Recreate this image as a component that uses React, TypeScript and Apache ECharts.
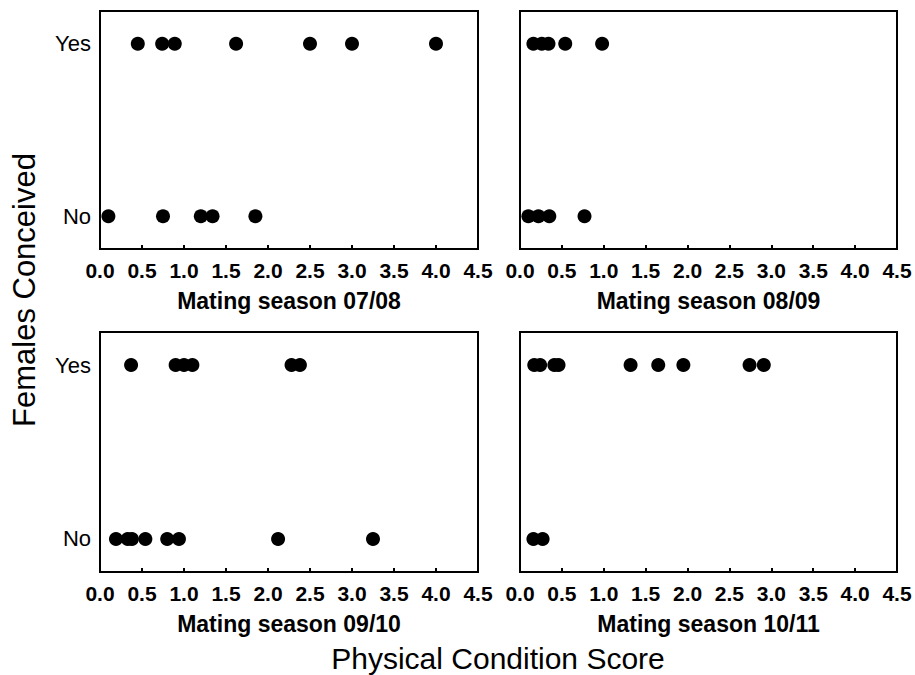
import React, { useEffect, useRef } from "react";
import * as echarts from "echarts";

const seasons = ["Mating season 07/08", "Mating season 08/09", "Mating season 09/10", "Mating season 10/11"];
const yLabels = ["No", "Yes"];
const xTicks = [0, 0.5, 1, 1.5, 2, 2.5, 3, 3.5, 4, 4.5];

const yes0708 = [0.45, 0.74, 0.89, 1.62, 2.5, 3.0, 4.0];
const no0708 = [0.1, 0.75, 1.2, 1.34, 1.85];
const yes0809 = [0.16, 0.26, 0.34, 0.54, 0.98];
const no0809 = [0.1, 0.22, 0.35, 0.77];
const yes0910 = [0.37, 0.9, 1.0, 1.1, 2.28, 2.38];
const no0910 = [0.19, 0.33, 0.38, 0.54, 0.8, 0.94, 2.12, 3.25];
const yes1011 = [0.17, 0.24, 0.41, 0.46, 1.32, 1.65, 1.95, 2.74, 2.91];
const no1011 = [0.16, 0.27];

const yesData = [yes0708, yes0809, yes0910, yes1011];
const noData = [no0708, no0809, no0910, no1011];

const FONT = "Liberation Sans, Arial, Helvetica, sans-serif";

export default function App() {
  const ref = useRef<HTMLDivElement>(null);
  useEffect(() => {
    if (!ref.current) return;
    const chart = echarts.init(ref.current, null, { renderer: "svg" });
    const grids = [
      { left: 100, top: 11, width: 378, height: 238 },
      { left: 520, top: 11, width: 377, height: 238 },
      { left: 100, top: 332, width: 378, height: 240 },
      { left: 520, top: 332, width: 377, height: 240 },
    ].map((g) => ({
      ...g,
      show: true,
      borderColor: "#000",
      borderWidth: 2,
      backgroundColor: "transparent",
      containLabel: false,
    }));
    const xAxis = seasons.map((name, i) => ({
      type: "value",
      gridIndex: i,
      position: "bottom",
      min: 0,
      max: 4.5,
      interval: 0.5,
      name,
      nameLocation: "middle",
      nameGap: 40,
      nameTextStyle: { fontFamily: FONT, fontWeight: "bold", fontSize: 23, color: "#000" },
      axisLine: { show: false, onZero: false },
      axisTick: { show: true, inside: true, length: 4, lineStyle: { color: "#000", width: 2 }, customValues: xTicks.slice(1, -1) },
      axisLabel: {
        show: true,
        customValues: xTicks,
        formatter: (v: number) => v.toFixed(1),
        fontFamily: FONT,
        fontWeight: "bold",
        fontSize: 21,
        color: "#000",
        margin: 11,
      },
      splitLine: { show: false },
    }));
    const yAxis = seasons.map((_, i) => ({
      type: "value",
      gridIndex: i,
      min: -0.19,
      max: 1.19,
      axisLine: { show: false, onZero: false },
      axisTick: { show: false },
      splitLine: { show: false },
      axisLabel: {
        show: i % 2 === 0,
        customValues: [0, 1],
        formatter: (v: number) => yLabels[Math.round(v)],
        fontFamily: FONT,
        fontSize: 22,
        color: "#000",
        margin: 9,
      },
    }));
    const series: any[] = [];
    seasons.forEach((_, i) => {
      series.push({
        type: "scatter",
        xAxisIndex: i,
        yAxisIndex: i,
        symbolSize: 14,
        itemStyle: { color: "#000", opacity: 1 },
        data: yesData[i].map((v) => [v, 1]),
      });
      series.push({
        type: "scatter",
        xAxisIndex: i,
        yAxisIndex: i,
        symbolSize: 14,
        itemStyle: { color: "#000", opacity: 1 },
        data: noData[i].map((v) => [v, 0]),
      });
    });
    chart.setOption({
      animation: false,
      backgroundColor: "#fff",
      grid: grids,
      xAxis,
      yAxis,
      series,
      graphic: [
        {
          type: "text",
          x: 24,
          y: 290,
          rotation: Math.PI / 2,
          style: {
            text: "Females Conceived",
            font: `31px ${FONT}`,
            fill: "#000",
            textAlign: "center",
            textVerticalAlign: "middle",
          },
        },
        {
          type: "text",
          x: 498,
          y: 658,
          style: {
            text: "Physical Condition Score",
            font: `30px ${FONT}`,
            fill: "#000",
            textAlign: "center",
            textVerticalAlign: "middle",
          },
        },
      ],
    });
    return () => chart.dispose();
  }, []);
  return <div ref={ref} style={{ position: "fixed", left: 0, top: 0, width: 915, height: 675 }} />;
}
